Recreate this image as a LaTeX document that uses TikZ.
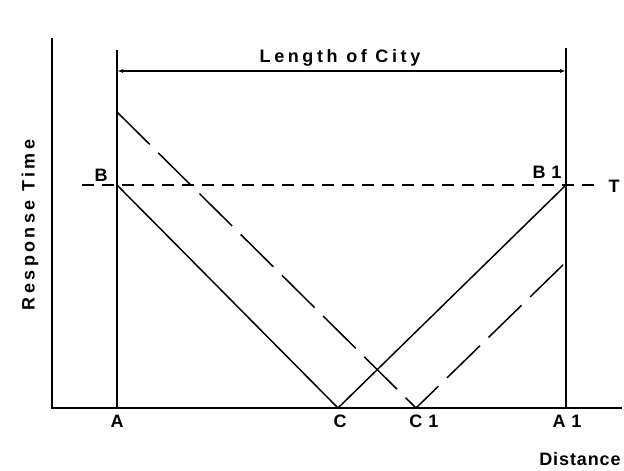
\documentclass[tikz,border=0pt]{standalone}
\usepackage{fontspec}
\setmainfont{Liberation Sans}
\usetikzlibrary{arrows.meta, positioning}

\begin{document}
\begin{tikzpicture}[
    x=1pt, y=-1pt,
    axisline/.style={line width=1.6pt},
    curveline/.style={line width=1.5pt},
    gapline/.style={line width=1.5pt, dash pattern=on 46pt off 12pt},
    thresh/.style={line width=2pt, dash pattern=on 12pt off 8pt},
    lbl/.style={font=\fontsize{18}{18}\selectfont\bfseries}
]
\useasboundingbox (0,0) rectangle (624,471);

% axes and city limits
\coordinate (O) at (52,408);
\coordinate (ytop) at (52,38);
\coordinate (xend) at (622,408);
\coordinate (A) at (117,408);
\coordinate (A1) at (566,408);
\coordinate (Atop) at (117,50);
\coordinate (A1top) at (566,48);
\coordinate (C) at (338,408);
\coordinate (C1) at (416,408);
\coordinate (B) at (117,185);
\coordinate (B1) at (566,185);
\coordinate (D) at (117,112);
\coordinate (D1) at (566,262);
\coordinate (Tl) at (82,185);
\coordinate (Tr) at (600,185);

\draw[axisline] (ytop) -- (O) -- (xend);
\draw[axisline] (A) -- (Atop);
\draw[axisline] (A1) -- (A1top);

% length of city
\draw[line width=1.4pt, {Latex[length=6pt,width=4pt]}-{Latex[length=6pt,width=4pt]}] (117,71) coordinate (L1) -- (566,71) coordinate (L2);
\node[font=\fontsize{18}{18}\selectfont\bfseries\addfontfeature{LetterSpace=20}] (city) at (340,58) {Length of City};

% response lines
\draw[curveline] (B) -- (C) -- (B1);
\draw[gapline] (D) -- (C1) -- (D1);
\draw[thresh] (Tl) -- (Tr);

% labels
\node[lbl] (lA) at (117,421) {A};
\node[lbl] (lC) at (340,421) {C};
\node[lbl] (lC1) at (424,421) {C\,\,1};
\node[lbl] (lA1) at (567,421) {A\,\,1};
\node[lbl] (lB) at (101,175) {B};
\node[lbl] (lB1) at (547,172) {B\,\,1};
\node[lbl] (lT) at (614,186) {T};
\node[font=\fontsize{18}{18}\selectfont\bfseries\addfontfeature{LetterSpace=5}] (dist) at (580,459) {Distance};
\node[rotate=90, font=\fontsize{18}{18}\selectfont\bfseries\addfontfeature{LetterSpace=19}] (resp) at (30,225) {Response Time};
\end{tikzpicture}
\end{document}
